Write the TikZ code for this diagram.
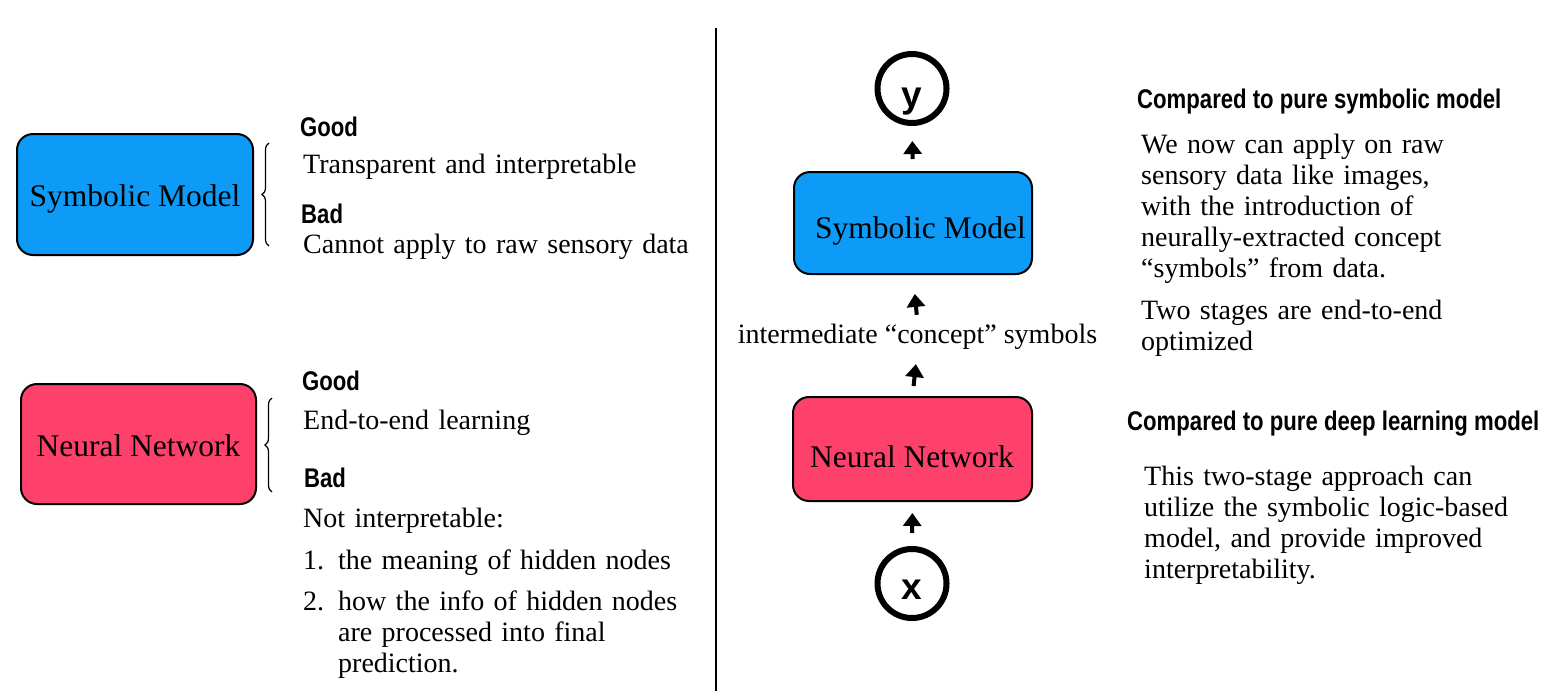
\documentclass[tikz,border=0pt]{standalone}
\usepackage{fontspec}
\setmainfont{Liberation Serif}
\newfontfamily\headfont{Liberation Sans}[FakeStretch=0.82]
\newfontfamily\circfont{Liberation Sans}
\usetikzlibrary{arrows.meta,decorations.pathreplacing}
\definecolor{symblue}{HTML}{0D9BF7}
\definecolor{nnpink}{HTML}{FE416B}
\begin{document}
\begin{tikzpicture}[x=1pt,y=-1pt,
  box/.style={draw=black,line width=2pt,rounded corners=16pt,inner sep=0pt},
  boxlabel/.style={anchor=base,inner sep=0pt,font=\fontsize{31.5}{36}\selectfont},
  txt/.style={anchor=base west,inner sep=0pt,text width=420pt,align=left,font=\fontsize{28}{31}\selectfont},
  head/.style={anchor=base west,inner sep=0pt,font=\headfont\bfseries\fontsize{27}{30}\selectfont},
  var/.style={circle,draw,line width=6pt,minimum size=69pt,inner sep=0pt,text depth=0pt,font=\circfont\bfseries\fontsize{37}{37}\selectfont},
  uparrow/.style={-{Triangle[width=18pt,length=13pt]},line width=4pt},
  bracket/.style={decorate,decoration={brace,amplitude=7pt},line width=1.2pt}]
\useasboundingbox (0,0) rectangle (1554,691);
\begin{scope}[local bounding box=leftpart]
  \node[box,fill=symblue,minimum width=236pt,minimum height=121pt] (symL) at (135,194.5) {};
  \node[boxlabel] (symLtxt) at (135,206) {Symbolic Model};
  \node[box,fill=nnpink,minimum width=235pt,minimum height=120pt] (nnL) at (138.5,444) {};
  \node[boxlabel] (nnLtxt) at (138.5,456) {Neural Network};
  \coordinate (symtop) at (269,143);\coordinate (symbot) at (269,246);
  \coordinate (nntop) at (272,398);\coordinate (nnbot) at (272,492);
  \draw[bracket] (symbot) -- (symtop);\draw[bracket] (nnbot) -- (nntop);
  \node[head] (symgood) at (300,136) {Good};
  \node[txt] (sympro) at (303,173) {Transparent and interpretable};
  \node[head] (symbad) at (301,223) {Bad};
  \node[txt] (symcon) at (303,253) {Cannot apply to raw sensory data};
  \node[head] (nngood) at (302,390) {Good};
  \node[txt] (nnpro) at (303,429) {End-to-end learning};
  \node[head] (nnbad) at (304,487) {Bad};
  \node[txt] (nncon) at (303,527) {Not interpretable:};
  \node[txt,text width=30pt] (numone) at (303,569) {1.};
  \node[txt] (itemone) at (338,569) {the meaning of hidden nodes};
  \node[txt,text width=30pt] (numtwo) at (303,610) {2.};
  \node[txt] (itemtwo) at (338,610) {how the info of hidden nodes\\are processed into final\\prediction.};
\end{scope}
\draw[line width=1.5pt] (716,28) -- (716,691);
\begin{scope}[local bounding box=rightpart]
  \node[var,text height=38pt] (ycirc) at (912,88.5) {y};
  \node[box,fill=symblue,minimum width=238pt,minimum height=102pt] (symR) at (913,223) {};
  \node[boxlabel] (symRtxt) at (920.5,238) {Symbolic Model};
  \node[anchor=base,inner sep=0pt,text height=20pt,text depth=6pt,font=\fontsize{28}{31}\selectfont] (concept) at (917.5,343) {intermediate “concept” symbols};
  \node[box,fill=nnpink,minimum width=239pt,minimum height=104pt] (nnR) at (912.5,449) {};
  \node[boxlabel] (nnRtxt) at (912,467) {Neural Network};
  \node[var,text height=32pt] (xcirc) at (912,583.5) {x};
  \draw[uparrow,shorten <=12pt,shorten >=15pt] (symR.north) -- (ycirc.south);
  \draw[uparrow,shorten <=8pt,shorten >=19pt] (concept.north) -- (symR.south);
  \draw[uparrow,shorten <=10pt,shorten >=15pt] (nnR.north) -- (concept.south);
  \draw[uparrow,shorten <=13pt,shorten >=11pt] (xcirc.north) -- (nnR.south);
  \node[head] (symhead) at (1137,108) {Compared to pure symbolic model};
  \node[txt] (symgain) at (1141,153) {We now can apply on raw\\sensory data like images,\\with the introduction of\\neurally-extracted concept\\“symbols” from data.};
  \node[txt] (symstage) at (1141,319) {Two stages are end-to-end\\optimized};
  \node[head] (dlhead) at (1127,430) {Compared to pure deep learning model};
  \node[txt] (dlgain) at (1144,485) {This two-stage approach can\\utilize the symbolic logic-based\\model, and provide improved\\interpretability.};
\end{scope}
\end{tikzpicture}
\end{document}
